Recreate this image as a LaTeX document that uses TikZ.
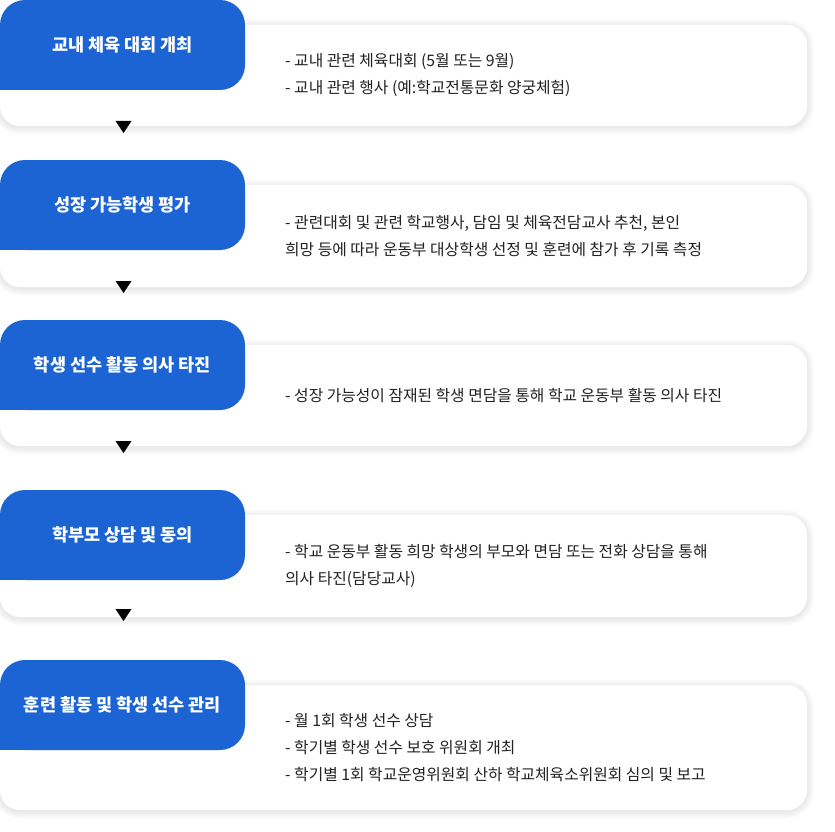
\documentclass[tikz,border=0pt]{standalone}
\usepackage{fontspec}
\setmainfont{Noto Sans CJK KR}
\definecolor{stepblue}{HTML}{1C64D3}
\definecolor{bodytext}{HTML}{222222}
\begin{document}
\begin{tikzpicture}[x=1pt,y=-1pt,
  card/.style={draw=none, fill=white, rounded corners=20pt, minimum width=807pt},
  titlebox/.style={fill=stepblue, rounded corners=25pt, minimum width=245pt, minimum height=90pt,
    inner sep=0pt},
  titletext/.style={text=white, font=\fontsize{17.5}{20}\selectfont\bfseries},
  desc/.style={anchor=west, align=left, inner sep=0pt, text=bodytext,
    font=\fontsize{15.8}{27}\selectfont},
  tri/.style={fill=black}
]
\useasboundingbox (0,0) rectangle (835,832);
\fill[white] (0,0) rectangle (835,832);

% card positions (invisible anchors first for shadows)
\foreach \n/\y/\h in {c1/75.5/101,c2/236/102,c3/395.5/101,c4/566/102,c5/747.5/125}{
  \path (403.5,\y) coordinate (\n-ctr);
  \foreach \i in {1,...,7}{
    \fill[black, opacity=0.011, rounded corners=20+\i]
      (403.5-403.5-\i, \y-\h/2-\i+1.5) rectangle (807+\i, \y+\h/2+\i+1.5);
  }
}

% cards
\node[card, minimum height=101pt] (c1) at (c1-ctr) {};
\node[card, minimum height=102pt] (c2) at (c2-ctr) {};
\node[card, minimum height=101pt] (c3) at (c3-ctr) {};
\node[card, minimum height=102pt] (c4) at (c4-ctr) {};
\node[card, minimum height=125pt] (c5) at (c5-ctr) {};

% title boxes
\foreach \n/\y in {b1/45,b2/205,b3/365,b4/535,b5/705}{
  \node[titlebox] (\n) at (122.5,\y) {};
  \fill[stepblue] (\n.south west) rectangle ++(26,-26);
}
\node[titletext] (t1) at (b1) {교내 체육 대회 개최};
\node[titletext] (t2) at (b2) {성장 가능학생 평가};
\node[titletext] (t3) at (b3) {학생 선수 활동 의사 타진};
\node[titletext] (t4) at (b4) {학부모 상담 및 동의};
\node[titletext] (t5) at (b5) {훈련 활동 및 학생 선수 관리};

% descriptions
\node[desc] (d1) at (285,75.5) {- 교내 관련 체육대회 (5월 또는 9월)\\- 교내 관련 행사 (예:학교전통문화 양궁체험)};
\node[desc] (d2) at (285,236) {- 관련대회 및 관련 학교행사, 담임 및 체육전담교사 추천, 본인\\희망 등에 따라 운동부 대상학생 선정 및 훈련에 참가 후 기록 측정};
\node[desc] (d3) at (285,396) {- 성장 가능성이 잠재된 학생 면담을 통해 학교 운동부 활동 의사 타진};
\node[desc] (d4) at (285,566) {- 학교 운동부 활동 희망 학생의 부모와 면담 또는 전화 상담을 통해\\의사 타진(담당교사)};
\node[desc] (d5) at (285,747.5) {- 월 1회 학생 선수 상담\\- 학기별 학생 선수 보호 위원회 개최\\- 학기별 1회 학교운영위원회 산하 학교체육소위원회 심의 및 보고};

% arrows between steps
\foreach \y in {121,281,441,609}{
  \fill[tri] (115.5,\y) -- (131.5,\y) -- (123.5,\y+12) -- cycle;
}
\end{tikzpicture}
\end{document}
